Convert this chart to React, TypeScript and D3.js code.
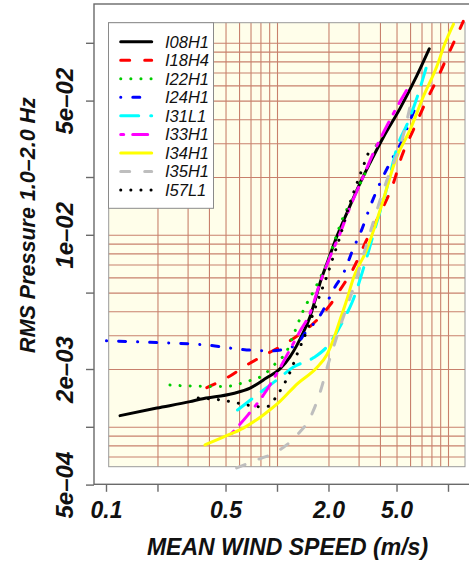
import React from "react";
import * as d3 from "d3";

// mean wind speed (m/s) and rms pressure 1.0-2.0 Hz, one pair of arrays per station
const speedI08H1 = [0.12, 0.197, 0.308, 0.352, 0.551, 0.691, 0.865, 1.03, 1.18, 1.3, 1.42, 1.55, 1.66, 1.77, 1.98, 2.22, 2.54, 3.04, 3.63, 4.16, 5.2, 6.52, 7.72];
const rmsI08H1 = [0.00115, 0.00126, 0.00136, 0.0014, 0.0015, 0.0016, 0.00181, 0.00201, 0.00232, 0.00268, 0.00314, 0.00377, 0.0046, 0.00562, 0.00744, 0.00983, 0.013, 0.0187, 0.0257, 0.0324, 0.0457, 0.0676, 0.0936];

const speedI18H4 = [0.386, 0.528, 0.661, 0.865, 1.08, 1.24, 1.7, 2.03, 2.32, 2.78, 3.32, 3.98, 4.76, 5.32, 6.23, 7.46, 8.53, 9.54, 12.2];
const rmsI18H4 = [0.00161, 0.00185, 0.00211, 0.00241, 0.00268, 0.0029, 0.00362, 0.00434, 0.00519, 0.00673, 0.00945, 0.013, 0.0187, 0.0257, 0.0354, 0.0507, 0.0644, 0.0802, 0.13];

const speedI22H1 = [0.235, 0.308, 0.482, 0.661, 0.826, 0.989, 1.13, 1.24, 1.42, 1.66, 1.94, 2.43, 2.78, 3.32, 3.8];
const rmsI22H1 = [0.00166, 0.00164, 0.00163, 0.00173, 0.00187, 0.00218, 0.00248, 0.00303, 0.00408, 0.0053, 0.00715, 0.0125, 0.0159, 0.0219, 0.0297];

const speedI24H1 = [0.1, 0.18, 0.386, 0.661, 0.904, 1.18, 1.3, 1.45, 1.6, 1.8, 1.98, 2.12, 2.43, 2.78, 3.11, 3.48, 3.98, 4.76, 5.32, 6.09, 6.63];
const rmsI24H1 = [0.00282, 0.00277, 0.00268, 0.00253, 0.0025, 0.0026, 0.0027, 0.0031, 0.0034, 0.0039, 0.0046, 0.0052, 0.00634, 0.00856, 0.0107, 0.0141, 0.0187, 0.0257, 0.0307, 0.0415, 0.0495];

const speedI31L1 = [0.584, 0.756, 0.989, 1.24, 1.62, 1.94, 2.12, 2.43, 2.72, 3.32, 3.8, 4.25, 5.09, 5.7, 6.57, 7.39];
const rmsI31L1 = [0.00123, 0.00147, 0.00176, 0.00206, 0.0023, 0.00262, 0.00292, 0.00362, 0.00444, 0.00762, 0.0116, 0.0162, 0.0301, 0.0375, 0.0527, 0.0741];

const speedI33H1 = [0.54, 0.661, 0.826, 0.989, 1.18, 1.35, 1.55, 1.77, 2.03, 2.32, 2.66, 3.11, 3.63, 4.55, 5.88];
const rmsI33H1 = [0.00093, 0.00114, 0.00147, 0.0019, 0.00253, 0.00315, 0.00393, 0.00562, 0.00773, 0.0102, 0.0141, 0.0194, 0.0267, 0.0399, 0.0599];

const speedI34H1 = [0.377, 0.482, 0.631, 0.826, 1.03, 1.3, 1.7, 1.94, 2.14, 2.32, 2.54, 2.78, 3.32, 3.98, 4.98, 5.96, 7.12, 8.53, 9.54, 10.7];
const rmsI34H1 = [0.00081, 0.00089, 0.00099, 0.00116, 0.00136, 0.00168, 0.00205, 0.00238, 0.00292, 0.00362, 0.0046, 0.006, 0.00838, 0.0135, 0.0256, 0.0354, 0.0527, 0.0755, 0.1, 0.126];

const speedI35H1 = [0.577, 0.756, 1.01, 1.32, 1.55, 1.77, 1.97, 2.12, 2.32, 2.59, 2.84, 3.18, 3.63, 4.16, 4.76, 5.2, 5.96];
const rmsI35H1 = [0.000614, 0.000676, 0.000754, 0.000923, 0.00112, 0.00151, 0.00211, 0.00259, 0.00334, 0.00442, 0.00564, 0.0079, 0.0117, 0.0172, 0.0237, 0.0289, 0.0468];

const speedI57L1 = [0.344, 0.461, 0.604, 0.79, 0.895, 0.98, 1.06, 1.2, 1.32, 1.48, 1.62, 1.77, 1.94, 2.12, 2.32, 2.54, 2.88, 3.38];
const rmsI57L1 = [0.00142, 0.00139, 0.00133, 0.00128, 0.00129, 0.00144, 0.0016, 0.00199, 0.00248, 0.00315, 0.00393, 0.00489, 0.00609, 0.00773, 0.00983, 0.013, 0.0181, 0.0265];

const stationNames = ["I08H1", "I18H4", "I22H1", "I24H1", "I31L1", "I33H1", "I34H1", "I35H1", "I57L1"];
const speeds = [speedI08H1, speedI18H4, speedI22H1, speedI24H1, speedI31L1, speedI33H1, speedI34H1, speedI35H1, speedI57L1];
const rmsValues = [rmsI08H1, rmsI18H4, rmsI22H1, rmsI24H1, rmsI31L1, rmsI33H1, rmsI34H1, rmsI35H1, rmsI57L1];

// axis ticks and labels
const xTicks = [0.1, 0.2, 0.5, 1, 2, 5, 10];
const xLabels = [{ v: 0.1, t: "0.1" }, { v: 0.5, t: "0.5" }, { v: 2, t: "2.0" }, { v: 5, t: "5.0" }];
const yTicks = [0.1, 0.05, 0.02, 0.01, 0.005, 0.002, 0.001, 0.0005];
const yLabels = [{ v: 0.05, t: "5e\u201302" }, { v: 0.01, t: "1e\u201302" }, { v: 0.002, t: "2e\u201303" }, { v: 0.0005, t: "5e\u201304" }];
const gridX = [0.2, 0.3, 0.4, 0.5, 0.6, 0.7, 0.8, 0.9, 1, 2, 3, 4, 5, 6, 7, 8, 9, 10];
const gridY = [0.0007, 0.0008, 0.0009, 0.001, 0.002, 0.003, 0.004, 0.005, 0.006, 0.007, 0.008, 0.009,
  0.01, 0.02, 0.03, 0.04, 0.05, 0.06, 0.07, 0.08, 0.09, 0.1];

// R palette colours and lty 1..6 recycled
const colors = ["#000000", "#FF0000", "#00CD00", "#0000FF", "#00FFFF", "#FF00FF", "#FFFF00", "#BEBEBE", "#000000"];
const dashes = [undefined, "9,15", "0.1,10", "0.1,12,7,12", "18,12", "3,9,15,9", undefined, "9,15", "0.1,10"];

const FONT = "'Liberation Sans', Arial, Helvetica, sans-serif";

export default function App() {
  const x = d3.scaleLog().domain([0.1, 10]).range([106.5, 448.5]);
  const y = d3.scaleLog().domain([0.1, 0.001]).range([43.3, 427.3]);

  // plot box and inner panel
  const box = { left: 94, top: 4, right: 480, bottom: 484.3 };
  const panel = { left: 108.7, top: 22.7, right: 465, bottom: 466.7 };
  const legend = { left: 108.5, top: 22.7, width: 105, height: 185.6, row: 18.54, first: 41.7 };

  return (
    <svg width={469} height={563} style={{ position: "absolute", left: 0, top: 0, background: "#fff" }} fontFamily={FONT}>
      <rect x={panel.left} y={panel.top} width={panel.right - panel.left} height={panel.bottom - panel.top} fill="#fffeea" />
      {gridX.map((v) => (
        <line key={"gx" + v} x1={x(v)} x2={x(v)} y1={panel.top} y2={panel.bottom} stroke="#c8806c" strokeWidth={1.1} />
      ))}
      {gridY.map((v) => (
        <line key={"gy" + v} x1={panel.left} x2={panel.right} y1={y(v)} y2={y(v)} stroke="#c8806c" strokeWidth={1.1} />
      ))}
      <rect x={panel.left} y={panel.top} width={panel.right - panel.left} height={panel.bottom - panel.top} fill="none" stroke="#9a9a9a" strokeWidth={1} />

      {/* outer box */}
      <rect x={box.left} y={box.top} width={box.right - box.left} height={box.bottom - box.top} fill="none" stroke="#6a6a6a" strokeWidth={1.4} />

      {/* curves */}
      {stationNames.map((name, i) => {
        const pts = speeds[i].map((s, j) => [x(s), y(rmsValues[i][j])] as [number, number]);
        const l = d3.line().curve(d3.curveMonotoneX)(pts);
        return (
          <path key={name} d={l || ""} fill="none" stroke={colors[i]} strokeWidth={3}
            strokeDasharray={dashes[i]} strokeLinecap="round" strokeLinejoin="round" />
        );
      })}

      {/* x axis */}
      {xTicks.map((v) => (
        <line key={"xt" + v} x1={x(v)} x2={x(v)} y1={box.bottom} y2={box.bottom + 7.5} stroke="#6a6a6a" strokeWidth={1.4} />
      ))}
      {xLabels.map((d) => (
        <text key={"xl" + d.t} x={x(d.v)} y={518} textAnchor="middle" fontSize={23} fontWeight="bold" fontStyle="italic" fill="#111">
          {d.t}
        </text>
      ))}
      <text x={287.5} y={555} textAnchor="middle" fontSize={23} fontWeight="bold" fontStyle="italic" fill="#111">
        MEAN WIND SPEED (m/s)
      </text>

      {/* y axis */}
      {yTicks.map((v) => (
        <line key={"yt" + v} x1={box.left - 8} x2={box.left} y1={y(v)} y2={y(v)} stroke="#6a6a6a" strokeWidth={1.4} />
      ))}
      {yLabels.map((d) => (
        <text key={"yl" + d.t} transform={`translate(73.3,${y(d.v)}) rotate(-90)`} textAnchor="middle" fontSize={24}
          fontWeight="bold" fontStyle="italic" fill="#111">
          {d.t}
        </text>
      ))}
      <text transform="translate(35,225) rotate(-90)" textAnchor="middle" fontSize={21.5} fontWeight="bold" fontStyle="italic" fill="#111">
        RMS Pressure 1.0–2.0 Hz
      </text>

      {/* legend */}
      <rect x={legend.left} y={legend.top} width={legend.width} height={legend.height} fill="#fff" stroke="#8a8a8a" strokeWidth={1} />
      {stationNames.map((name, i) => {
        const cy = legend.first + i * legend.row;
        return (
          <g key={"lg" + name}>
            <line x1={120.7} x2={151.7} y1={cy} y2={cy} stroke={colors[i]} strokeWidth={3}
              strokeDasharray={dashes[i]} strokeLinecap="round" />
            <text x={165} y={cy + 6} fontSize={16.5} fontStyle="italic" fill="#111">{name}</text>
          </g>
        );
      })}
    </svg>
  );
}
